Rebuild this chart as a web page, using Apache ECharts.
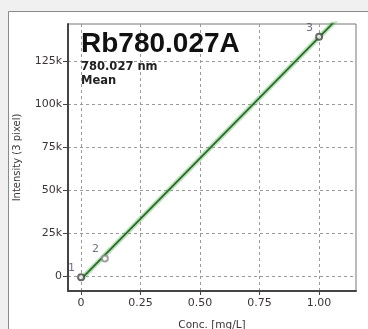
<!DOCTYPE html>
<html>
<head>
<meta charset="utf-8">
<script src="https://cdn.jsdelivr.net/npm/echarts@6/dist/echarts.min.js"></script>
<style>
  html, body { margin: 0; padding: 0; background: #f0f0f0; overflow: hidden; }
  #chart { width: 368px; height: 329px; }
</style>
</head>
<body>
<div id="chart"></div>
<script>
// Calibration standards
const standardConc = [0, 0.1, 1.0];              // mg/L
const standardIntensity = [-700, 10300, 139400]; // counts, 3-pixel mean
const standardLabels = ['1', '2', '3'];

// Linear calibration fit (intensity = slope * conc + intercept)
const fitSlope = 140900;
const fitIntercept = -1800;
const fitRange = [0, 1.155];

// Axis ticks
const xTicks = [0, 0.25, 0.5, 0.75, 1.0];
const xTickLabels = ['0', '0.25', '0.50', '0.75', '1.00'];
const yTicks = [0, 25000, 50000, 75000, 100000, 125000];
const yTickLabels = ['0', '25k', '50k', '75k', '100k', '125k'];

const fitLine = fitRange.map(c => [c, fitSlope * c + fitIntercept]);
const pointColors = ['#444', '#8a8a8a', '#444'];
const points = standardConc.map((c, i) => ({
  value: [c, standardIntensity[i]], name: standardLabels[i],
  itemStyle: { color: pointColors[i] }
}));

const labelColor = '#3c3434';
const chart = echarts.init(document.getElementById('chart'), null, { renderer: 'canvas' });

chart.setOption({
  backgroundColor: '#f0f0f0',
  animation: false,
  graphic: [
    { type: 'rect', z: -10, shape: { x: 8.5, y: 11.5, width: 420, height: 400 },
      style: { fill: '#ffffff', stroke: '#8a8a8a', lineWidth: 1 } },
    { type: 'text', z: 10, left: 81, top: 30,
      style: { text: 'Rb780.027A', font: 'bold 28px "Liberation Sans", Arial, sans-serif', fill: '#111' } },
    { type: 'text', z: 10, left: 81, top: 61,
      style: { text: '780.027 nm', font: 'bold 11.5px "DejaVu Sans", sans-serif', fill: '#222' } },
    { type: 'text', z: 10, left: 81, top: 75,
      style: { text: 'Mean', font: 'bold 11.5px "DejaVu Sans", sans-serif', fill: '#222' } }
  ],
  grid: { left: 68, top: 24, right: 12, bottom: 38, outerBoundsMode: 'none', containLabel: false,
    show: true, borderColor: '#777', borderWidth: 1, backgroundColor: '#ffffff' },
  xAxis: {
    type: 'value', min: -0.055, max: 1.155,
    name: 'Conc. [mg/L]', nameLocation: 'middle', nameGap: 29,
    nameTextStyle: { fontFamily: '"DejaVu Sans", sans-serif', fontSize: 10.5, color: labelColor },
    axisLine: { show: true, onZero: false, lineStyle: { color: '#444', width: 2 } },
    axisTick: { show: true, length: 4, customValues: xTicks, lineStyle: { color: '#444' } },
    axisLabel: { customValues: xTicks, margin: 7, fontFamily: '"DejaVu Sans", sans-serif', fontSize: 11, color: labelColor,
      formatter: v => xTickLabels[xTicks.indexOf(v)] ?? '' },
    splitLine: { show: true, lineStyle: { color: '#9a9a9a', type: [3, 3], width: 1 } }
  },
  yAxis: {
    type: 'value', min: -8700, max: 146800,
    name: 'Intensity (3 pixel)', nameLocation: 'middle', nameGap: 46,
    nameTextStyle: { fontFamily: '"DejaVu Sans", sans-serif', fontSize: 10, color: labelColor },
    axisLine: { show: true, onZero: false, lineStyle: { color: '#444', width: 2 } },
    axisTick: { show: true, length: 5, customValues: yTicks, lineStyle: { color: '#444' } },
    axisLabel: { customValues: yTicks, margin: 6, fontFamily: '"DejaVu Sans", sans-serif', fontSize: 11, color: labelColor,
      padding: [0, 0, 9, 0],
      formatter: v => yTickLabels[yTicks.indexOf(v)] ?? '' },
    splitLine: { show: true, lineStyle: { color: '#9a9a9a', type: [3, 3], width: 1 } }
  },
  series: [
    { type: 'line', data: fitLine, showSymbol: false, clip: true, silent: true, z: 2,
      lineStyle: { color: 'rgba(110,180,110,0.45)', width: 5 } },
    { type: 'line', data: fitLine, showSymbol: false, clip: true, silent: true, z: 3,
      lineStyle: { color: '#1f6e1f', width: 1.7 } },
    { type: 'scatter', data: points, symbol: 'emptyCircle', symbolSize: 6, z: 4,
      itemStyle: { borderWidth: 1 },
      label: { show: true, formatter: p => p.name, position: 'left', offset: [0, -9], distance: 2,
        fontFamily: '"DejaVu Sans", sans-serif', fontSize: 11, color: '#4b4b6b' } }
  ]
});
</script>
</body>
</html>
